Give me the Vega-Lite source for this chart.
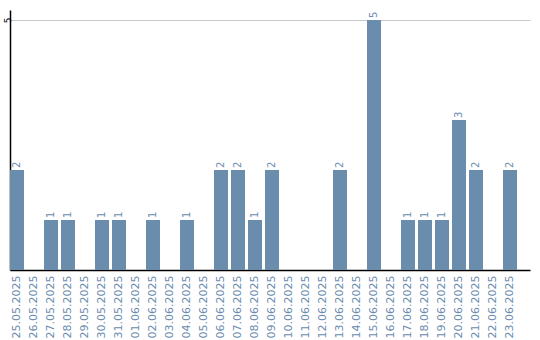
{
  "$schema": "https://vega.github.io/schema/vega-lite/v6.json",
  "width": 520,
  "height": 260,
  "autosize": {"type": "none"},
  "padding": {"left": 10, "top": 10, "right": 10, "bottom": 70},
  "background": "white",
  "config": {"view": {"stroke": null}, "font": "DejaVu Sans"},
  "data": {"values": [
    {"date": "25.05.2025", "count": 2},
    {"date": "26.05.2025", "count": 0},
    {"date": "27.05.2025", "count": 1},
    {"date": "28.05.2025", "count": 1},
    {"date": "29.05.2025", "count": 0},
    {"date": "30.05.2025", "count": 1},
    {"date": "31.05.2025", "count": 1},
    {"date": "01.06.2025", "count": 0},
    {"date": "02.06.2025", "count": 1},
    {"date": "03.06.2025", "count": 0},
    {"date": "04.06.2025", "count": 1},
    {"date": "05.06.2025", "count": 0},
    {"date": "06.06.2025", "count": 2},
    {"date": "07.06.2025", "count": 2},
    {"date": "08.06.2025", "count": 1},
    {"date": "09.06.2025", "count": 2},
    {"date": "10.06.2025", "count": 0},
    {"date": "11.06.2025", "count": 0},
    {"date": "12.06.2025", "count": 0},
    {"date": "13.06.2025", "count": 2},
    {"date": "14.06.2025", "count": 0},
    {"date": "15.06.2025", "count": 5},
    {"date": "16.06.2025", "count": 0},
    {"date": "17.06.2025", "count": 1},
    {"date": "18.06.2025", "count": 1},
    {"date": "19.06.2025", "count": 1},
    {"date": "20.06.2025", "count": 3},
    {"date": "21.06.2025", "count": 2},
    {"date": "22.06.2025", "count": 0},
    {"date": "23.06.2025", "count": 2}
  ]},
  "encoding": {
    "x": {
      "field": "date", "type": "nominal", "sort": null,
      "scale": {"paddingInner": 0.1765, "paddingOuter": 0.382, "align": 0},
      "axis": {"title": null, "labelAngle": -90, "ticks": false, "domainColor": "black", "domainWidth": 1.5, "labelColor": "#6b8cae", "labelFontSize": 11, "labelPadding": 5}
    },
    "y": {
      "field": "count", "type": "quantitative",
      "scale": {"domain": [0, 5.2], "nice": false},
      "axis": {"title": null, "values": [5], "ticks": false, "grid": true, "gridColor": "#c8c8c8", "domainColor": "black", "domainWidth": 1.5, "labelAngle": -90, "labelColor": "black", "labelFontSize": 9, "labelPadding": 3, "labelAlign": "center", "labelBaseline": "middle"}
    }
  },
  "layer": [
    {"mark": {"type": "bar", "color": "#6a8cad"}},
    {
      "transform": [{"filter": "datum.count > 0"}],
      "mark": {"type": "text", "angle": -90, "align": "left", "baseline": "middle", "dx": 2, "color": "#6b8cae", "fontSize": 10},
      "encoding": {"text": {"field": "count", "type": "quantitative"}}
    }
  ]
}
